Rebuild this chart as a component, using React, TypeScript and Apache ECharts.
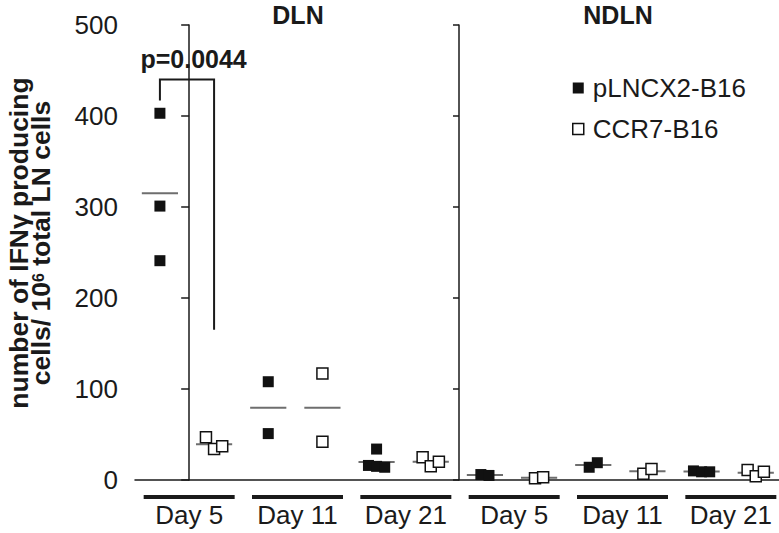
import React, { useEffect, useRef } from 'react';
import * as echarts from 'echarts';

// ---- data ----
const groupKeys = ['DLN Day 5', 'DLN Day 11', 'DLN Day 21', 'NDLN Day 5', 'NDLN Day 11', 'NDLN Day 21'];
const dayLabels = ['Day 5', 'Day 11', 'Day 21', 'Day 5', 'Day 11', 'Day 21'];
const panelTitles = ['DLN', 'NDLN'];
const seriesNames = ['pLNCX2-B16', 'CCR7-B16'];
const pLNCX2Values = [[403, 301, 241], [108, 51], [34, 16, 15, 14], [6, 5], [14, 19], [10, 9, 9]];
const ccr7Values = [[47, 34, 37], [117, 42], [25, 15, 20], [2, 3], [7, 12], [11, 4, 9]];
const yMin = 0;
const yMax = 500;
const yStep = 100;
const pLabel = 'p=0.0044';
const bracketLeftEnd = 417;
const bracketTop = 440;
const bracketRightEnd = 165;
const pLabelValue = 463;

// ---- layout constants ----
const FONT = '"Liberation Sans", Arial, Helvetica, sans-serif';
const INK = '#1a1a1a';
const SERIES_OFFSET = [-0.27, 0.23];
const JITTER_STEP = 0.075;
const CLUSTER_GAP = 13;
const MEAN_HALF = 0.167;

function placePoints(groups: number[][], offset: number): number[][] {
  const out: number[][] = [];
  groups.forEach((vals, gi) => {
    const base = gi + offset;
    const order = vals.map((v, i) => i).sort((a, b) => vals[a] - vals[b]);
    const clusters: number[][] = [];
    let cur: number[] = [];
    order.forEach((idx, k) => {
      if (k > 0 && vals[idx] - vals[order[k - 1]] >= CLUSTER_GAP) {
        clusters.push(cur);
        cur = [];
      }
      cur.push(idx);
    });
    if (cur.length) clusters.push(cur);
    const xs: number[] = new Array(vals.length).fill(base);
    clusters.forEach((c) => {
      const sorted = c.slice().sort((a, b) => a - b);
      sorted.forEach((idx, j) => {
        xs[idx] = base + (j - (sorted.length - 1) / 2) * JITTER_STEP;
      });
    });
    vals.forEach((v, i) => out.push([xs[i], v]));
  });
  return out;
}

function means(groups: number[][], offset: number): number[][] {
  return groups.map((vals, gi) => [gi + offset, vals.reduce((s, v) => s + v, 0) / vals.length]);
}

export default function App() {
  const ref = useRef<HTMLDivElement>(null);
  useEffect(() => {
    if (!ref.current) return;
    const chart = echarts.init(ref.current, null, { renderer: 'svg' });
    const meanData = [...means(pLNCX2Values, SERIES_OFFSET[0]), ...means(ccr7Values, SERIES_OFFSET[1])];
    const axisLineStyle = { color: INK, width: 1.5 };
    const option: any = {
      animation: false,
      textStyle: { fontFamily: FONT },
      grid: { left: 135, top: 25, width: 650, height: 455, containLabel: false, outerBoundsMode: 'none' },
      legend: {
        orient: 'vertical',
        left: 567,
        top: 70,
        itemGap: 15,
        itemWidth: 11,
        itemHeight: 11,
        icon: 'rect',
        selectedMode: false,
        textStyle: { fontSize: 26, color: INK, fontFamily: FONT, padding: [0, 0, 0, 4] },
        data: [
          { name: seriesNames[0], itemStyle: { color: '#111', opacity: 1 } },
          { name: seriesNames[1], itemStyle: { color: '#fff', borderColor: '#111', borderWidth: 1.5, opacity: 1 } },
        ],
      },
      xAxis: [
        {
          type: 'category',
          data: groupKeys,
          boundaryGap: true,
          axisLine: { show: true, lineStyle: axisLineStyle },
          axisTick: { show: false },
          splitLine: { show: false },
          axisLabel: {
            interval: 0,
            formatter: (_v: string, i: number) => dayLabels[i],
            fontSize: 26,
            color: INK,
            fontFamily: FONT,
            margin: 22,
          },
        },
        { type: 'value', min: -0.5, max: 5.5, show: false, splitLine: { show: false } },
      ],
      yAxis: [
        {
          type: 'value',
          min: yMin,
          max: yMax,
          interval: yStep,
          axisLine: { show: true, lineStyle: axisLineStyle },
          axisTick: { show: true, length: 8, lineStyle: axisLineStyle },
          axisLabel: { fontSize: 26, color: INK, fontFamily: FONT, margin: 17 },
          splitLine: { show: false },
        },
        {
          type: 'value',
          position: 'left',
          offset: -324,
          min: yMin,
          max: yMax,
          interval: yStep,
          axisLine: { show: true, lineStyle: axisLineStyle },
          axisTick: { show: true, length: 6, lineStyle: axisLineStyle },
          axisLabel: { show: false },
          splitLine: { show: false },
        },
      ],
      graphic: [
        {
          type: 'text',
          x: 298,
          y: 15,
          style: { text: panelTitles[0], align: 'center', verticalAlign: 'middle', fontSize: 25, fontWeight: 'bold', fontFamily: FONT, fill: INK },
        },
        {
          type: 'text',
          x: 618,
          y: 15,
          style: { text: panelTitles[1], align: 'center', verticalAlign: 'middle', fontSize: 25, fontWeight: 'bold', fontFamily: FONT, fill: INK },
        },
        {
          type: 'text',
          x: 30,
          y: 243,
          rotation: Math.PI / 2,
          style: {
            text: '{a|number of IFNγ producing}\n{a|cells/ 10}{s|6}{a| total LN cells}',
            align: 'center',
            verticalAlign: 'middle',
            rich: {
              a: { fontSize: 26.5, fontWeight: 'bold', fontFamily: FONT, fill: INK, lineHeight: 22 },
              s: { fontSize: 16, fontWeight: 'bold', fontFamily: FONT, fill: INK, lineHeight: 22, verticalAlign: 'top' },
            },
          },
        },
      ],
      series: [
        {
          name: 'means',
          type: 'custom',
          xAxisIndex: 1,
          yAxisIndex: 0,
          silent: true,
          z: 1,
          encode: { x: 0, y: 1 },
          data: meanData,
          renderItem: (_p: any, api: any) => {
            const x = api.value(0);
            const y = api.value(1);
            const a = api.coord([x - MEAN_HALF, y]);
            const b = api.coord([x + MEAN_HALF, y]);
            return { type: 'line', shape: { x1: a[0], y1: a[1], x2: b[0], y2: b[1] }, style: { stroke: '#6e6e6e', lineWidth: 2 } };
          },
        },
        {
          name: seriesNames[0],
          type: 'scatter',
          xAxisIndex: 1,
          yAxisIndex: 0,
          symbol: 'rect',
          symbolSize: 11,
          z: 3,
          itemStyle: { color: '#111', opacity: 1 },
          data: placePoints(pLNCX2Values, SERIES_OFFSET[0]),
        },
        {
          name: seriesNames[1],
          type: 'scatter',
          xAxisIndex: 1,
          yAxisIndex: 0,
          symbol: 'rect',
          symbolSize: 11,
          z: 4,
          itemStyle: { color: '#fff', borderColor: '#111', borderWidth: 1.5, opacity: 1 },
          data: placePoints(ccr7Values, SERIES_OFFSET[1]),
        },
        {
          name: 'underlines',
          type: 'custom',
          xAxisIndex: 1,
          yAxisIndex: 0,
          silent: true,
          clip: false,
          encode: { x: 0, y: 1 },
          data: groupKeys.map((_k, i) => [i, 0]),
          renderItem: (_p: any, api: any) => {
            const i = api.value(0);
            const a = api.coord([i - 0.42, 0]);
            const b = api.coord([i + 0.42, 0]);
            return { type: 'line', shape: { x1: a[0], y1: a[1] + 17, x2: b[0], y2: b[1] + 17 }, style: { stroke: INK, lineWidth: 4 } };
          },
        },
        {
          name: 'bracket',
          type: 'custom',
          xAxisIndex: 1,
          yAxisIndex: 0,
          silent: true,
          clip: false,
          encode: { x: 0, y: 1 },
          data: [[0, bracketTop]],
          renderItem: (_p: any, api: any) => {
            const g = api.value(0);
            const p1 = api.coord([g + SERIES_OFFSET[0], bracketLeftEnd]);
            const p2 = api.coord([g + SERIES_OFFSET[0], bracketTop]);
            const p3 = api.coord([g + SERIES_OFFSET[1], bracketTop]);
            const p4 = api.coord([g + SERIES_OFFSET[1], bracketRightEnd]);
            const t = api.coord([g - 0.45, pLabelValue]);
            return {
              type: 'group',
              children: [
                { type: 'polyline', shape: { points: [p1, p2, p3, p4] }, style: { stroke: INK, lineWidth: 2, fill: null } },
                {
                  type: 'text',
                  x: t[0],
                  y: t[1],
                  style: { text: pLabel, align: 'left', verticalAlign: 'middle', fontSize: 25, fontWeight: 'bold', fontFamily: FONT, fill: INK },
                },
              ],
            };
          },
        },
      ],
    };
    chart.setOption(option);
    return () => chart.dispose();
  }, []);
  return <div ref={ref} style={{ position: 'fixed', left: 0, top: 0, width: 779, height: 533, background: '#fff' }} />;
}
